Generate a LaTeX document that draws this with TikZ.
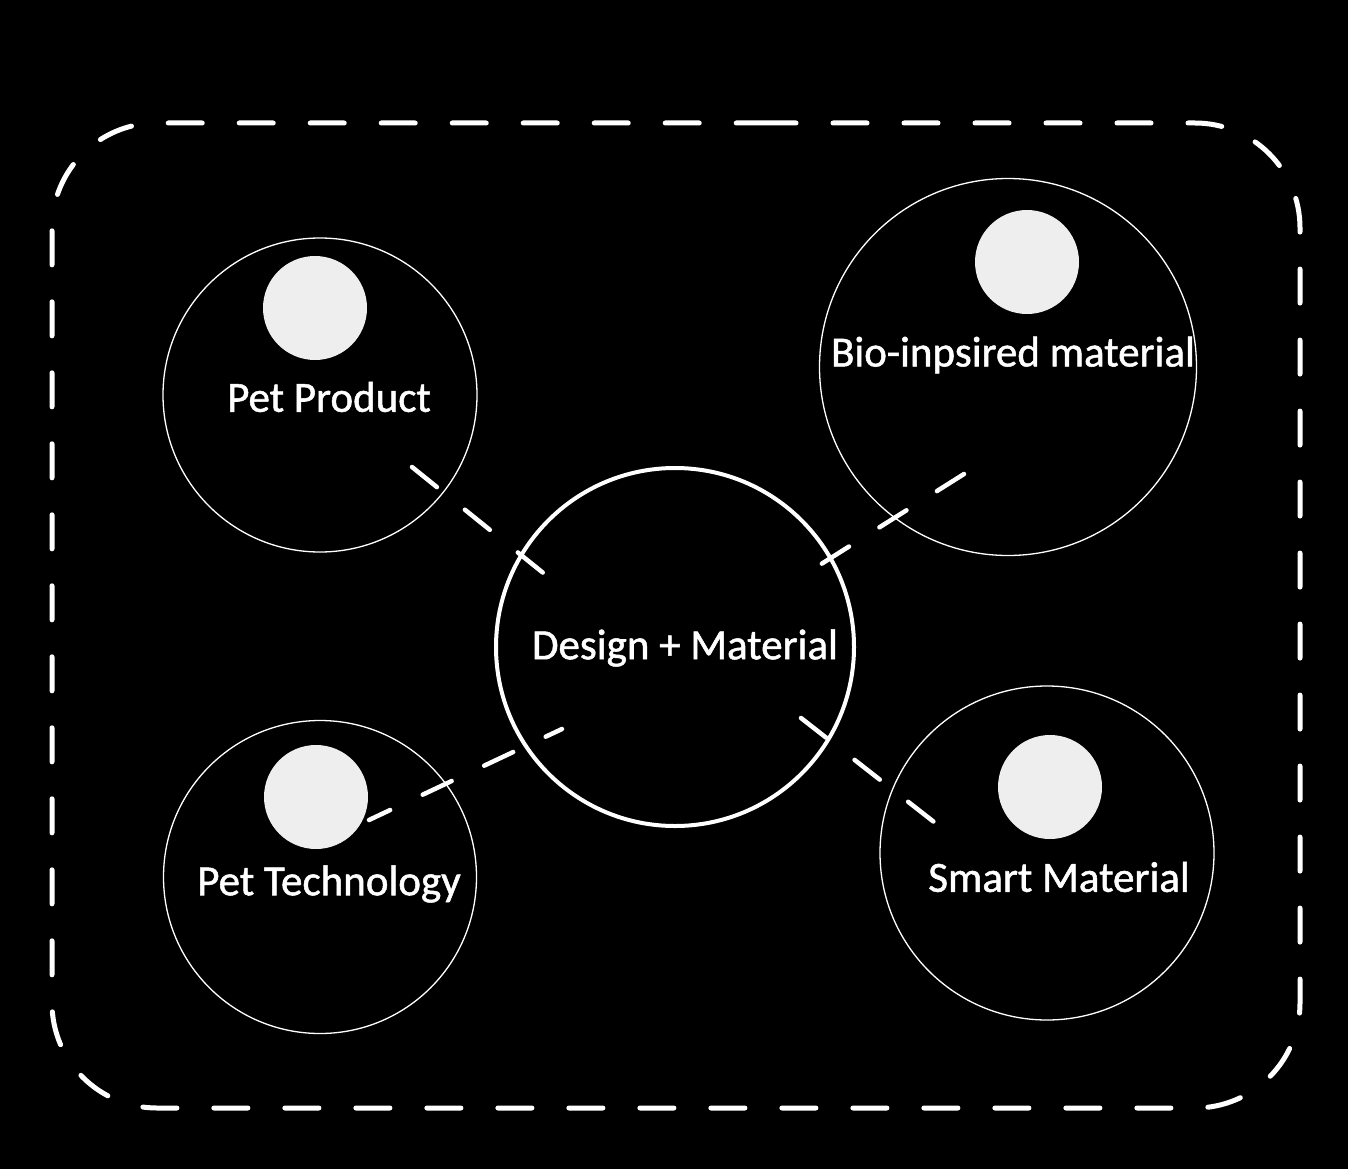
\documentclass[tikz,border=0pt]{standalone}
\usepackage{fontspec}
\setmainfont{Carlito}
\newfontfamily\lblfont[FakeBold=1.2]{Carlito}
\begin{document}
\begin{tikzpicture}[x=1pt,y=-1pt,
  bubble/.style={circle,draw=white,line width=1.3pt,inner sep=0pt},
  core/.style={circle,draw=white,line width=4pt,inner sep=0pt},
  dot/.style={circle,fill=dotgray,inner sep=0pt,minimum size=104pt},
  lbl/.style={text=white,font=\lblfont\fontsize{43}{47}\selectfont},
  link/.style={draw=white,line width=4.5pt,line cap=round,dash pattern=on 32pt off 36pt},
  frame/.style={draw=white,line width=5pt,line cap=round,dash pattern=on 34pt off 37pt,rounded corners=105pt}]
\definecolor{dotgray}{HTML}{EEEEEE}
\fill[black] (0,0) rectangle (1348,1169);
\useasboundingbox (0,0) rectangle (1348,1169);
\coordinate (f0) at (665,123);
\draw[frame,dash phase=8pt] (f0) -- (1300,123) -- (1300,1108) -- (52,1108) -- (52,123) -- cycle;
% circles
\node[bubble,minimum size=314pt] (pp) at (320,395) {};
\node[bubble,minimum size=377pt] (bio) at (1008,367) {};
\node[core,minimum size=358pt] (dm) at (675,647) {};
\node[bubble,minimum size=313pt] (pt) at (320,877) {};
\node[bubble,minimum size=334pt] (sm) at (1047,853) {};
% dots
\node[dot] (d1) at (315,308) {};
\node[dot] (d2) at (1027,262) {};
\node[dot] (d3) at (316,797) {};
\node[dot] (d4) at (1050,787) {};
% labels
\node[lbl] (t1) at (329,397) {Pet Product};
\node[lbl] (t2) at (1013,355) {Bio-inpsired material};
\node[lbl] (t3) at (685,648) {Design + Material};
\node[lbl] (t4) at (329,884) {Pet Technology};
\node[lbl] (t5) at (1059,877) {Smart Material};
% connectors
\coordinate (a1) at (412,467); \coordinate (a2) at (547,576);
\coordinate (b1) at (964,474); \coordinate (b2) at (807,573);
\coordinate (c1) at (562,729); \coordinate (c2) at (369,820);
\coordinate (e1) at (801,718); \coordinate (e2) at (934,822);
\draw[link] (a1) -- (a2);
\draw[link] (b1) -- (b2);
\draw[link,dash phase=14pt] (c1) -- (c2);
\draw[link] (e1) -- (e2);
\end{tikzpicture}
\end{document}
